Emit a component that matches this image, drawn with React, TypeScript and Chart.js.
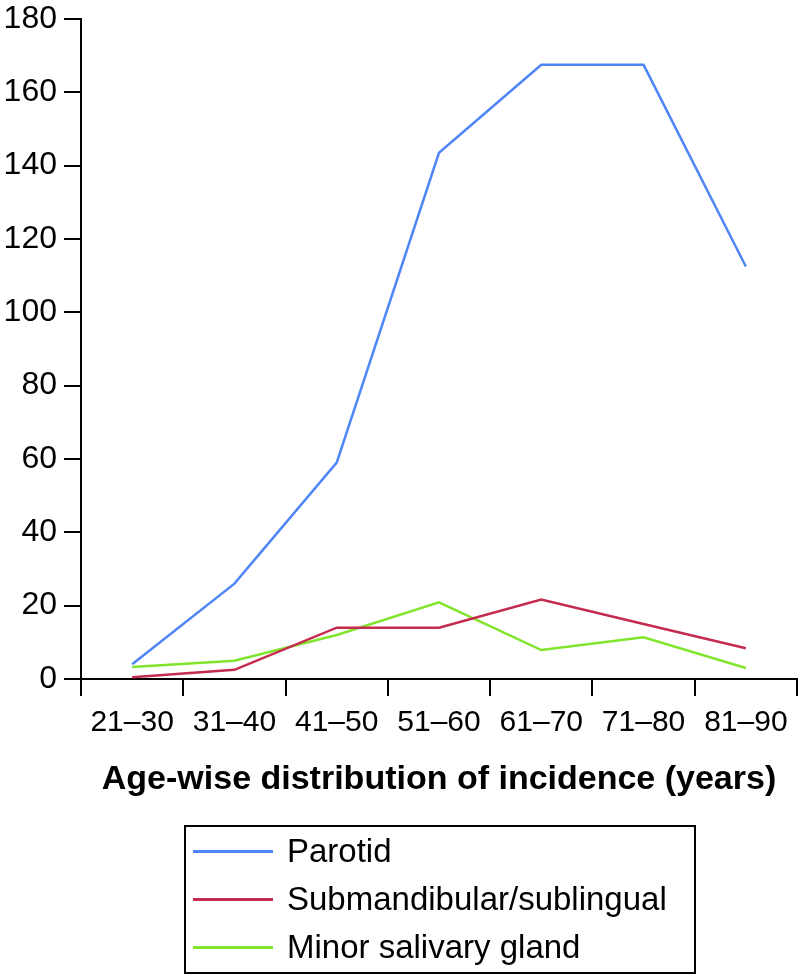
import React, { useEffect, useRef } from "react";
import { Chart, registerables } from "chart.js";

Chart.register(...registerables);

const categories = ["21–30", "31–40", "41–50", "51–60", "61–70", "71–80", "81–90"];
const parotid = [4, 26, 59, 143.5, 167.5, 167.5, 112.5];
const submandibular = [0.5, 2.5, 14, 14, 21.7, 15, 8.4];
const minorSalivary = [3.3, 5, 12, 20.9, 7.9, 11.4, 3];
const seriesNames = ["Parotid", "Submandibular/sublingual", "Minor salivary gland"];
const seriesColors = ["#4f86f7", "#c52a4f", "#80e52c"];
const yMin = 0;
const yMax = 180;
const yStep = 20;
const xTitle = "Age-wise distribution of incidence (years)";

const FONT = "'Liberation Sans', Arial, Helvetica, sans-serif";

export default function App() {
  const canvasRef = useRef<HTMLCanvasElement | null>(null);

  useEffect(() => {
    document.body.style.margin = "0";
    const canvas = canvasRef.current;
    if (!canvas) return;
    const values = [parotid, submandibular, minorSalivary];
    const chart = new Chart(canvas, {
      type: "line",
      data: {
        labels: categories,
        datasets: values.map((v, i) => ({
          label: seriesNames[i],
          data: v,
          borderColor: seriesColors[i],
          backgroundColor: seriesColors[i],
          borderWidth: 2.5,
          pointRadius: 0,
          tension: 0,
          fill: false,
        })),
      },
      options: {
        responsive: false,
        animation: false,
        layout: { padding: { top: 18, right: 2, bottom: 165, left: 0 } },
        plugins: {
          legend: { display: false },
          tooltip: { enabled: false },
        },
        scales: {
          x: {
            type: "category",
            offset: true,
            grid: {
              display: true,
              offset: true,
              drawOnChartArea: false,
              drawTicks: true,
              tickLength: 17,
              color: "#000",
              lineWidth: 2,
            },
            border: { display: true, color: "#000", width: 2 },
            ticks: {
              color: "#000",
              font: { family: FONT, size: 30 },
              padding: 9,
              maxRotation: 0,
              autoSkip: false,
            },
            title: {
              display: true,
              text: xTitle,
              color: "#000",
              font: { family: FONT, size: 34, weight: "bold" },
              padding: { top: 0, bottom: 9 },
            },
            afterFit: (s: any) => {
              s.height = 130;
            },
          },
          y: {
            min: yMin,
            max: yMax,
            grid: {
              display: true,
              drawOnChartArea: false,
              drawTicks: true,
              tickLength: 17,
              color: "#000",
              lineWidth: 2,
            },
            border: { display: true, color: "#000", width: 2 },
            ticks: {
              stepSize: yStep,
              color: "#000",
              font: { family: FONT, size: 32, lineHeight: 0.75 },
              padding: 7,
            },
            afterFit: (s: any) => {
              s.width = 81;
            },
          },
        },
      },
    });
    return () => chart.destroy();
  }, []);

  return (
    <div style={{ position: "relative", width: 799, height: 974, background: "#fff", fontFamily: FONT }}>
      <canvas ref={canvasRef} width={799} height={974} style={{ position: "absolute", left: 0, top: 0 }} />
      <div
        style={{
          position: "absolute",
          left: 184,
          top: 825,
          width: 512,
          height: 149,
          border: "2px solid #000",
          boxSizing: "border-box",
        }}
      >
        {seriesNames.map((name, i) => (
          <div
            key={name}
            style={{ position: "relative", height: 48, lineHeight: "48px", fontSize: 33, color: "#000", whiteSpace: "nowrap" }}
          >
            <div
              style={{
                position: "absolute",
                left: 7,
                top: 23,
                width: 80,
                height: 3,
                background: seriesColors[i],
              }}
            />
            <span style={{ position: "absolute", left: 101, top: 0 }}>{name}</span>
          </div>
        ))}
      </div>
    </div>
  );
}
